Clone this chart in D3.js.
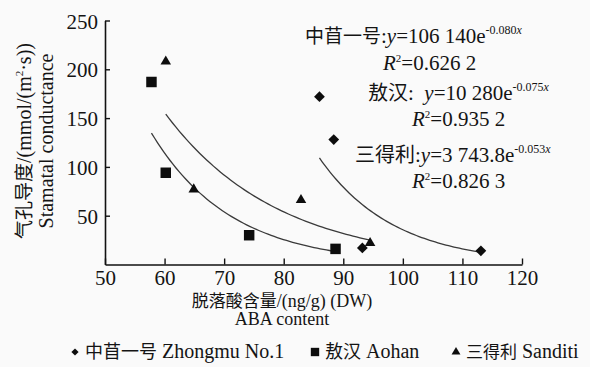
<!DOCTYPE html>
<html>
<head>
<meta charset="utf-8">
<script src="https://cdn.jsdelivr.net/npm/d3@7"></script>
<style>
  body { margin: 0; background: #fafafa; }
  svg { display: block; }
  text, tspan { fill: #141414; font-family: "Liberation Serif", "Times New Roman", serif; }
  .cn { font-family: "Noto Sans CJK SC", sans-serif; }
</style>
</head>
<body>
<svg></svg>
<script>
// cultivar names
const cultivarsCn = ['中苜一号', '敖汉', '三得利'];
const cultivarsEn = ['Zhongmu No.1', 'Aohan', 'Sanditi'];
// ABA content (ng/g DW) and stomatal conductance
const abaZhongmu = [86.0, 88.4, 93.2, 113.1];
const gsZhongmu = [172, 128, 17, 14];
const abaAohan = [57.8, 60.2, 74.2, 88.7];
const gsAohan = [187, 94, 30, 16];
const abaSanditi = [60.2, 64.9, 82.9, 94.5];
const gsSanditi = [208, 77, 66, 22];
// exponential fits y = a*e^(b*x)
const fitA = [106140, 10280, 3743.8];
const fitB = [-0.080, -0.075, -0.053];
const fitAText = ['106 140', '10 280', '3 743.8'];
const fitBText = ['-0.080', '-0.075', '-0.053'];
const fitR2Text = ['0.626 2', '0.935 2', '0.826 3'];
// ticks
const xTicks = [50, 60, 70, 80, 90, 100, 110, 120];
const yTicks = [50, 100, 150, 200, 250];

const size = {w: 590, h: 367};
const svg = d3.select('svg').attr('width', size.w).attr('height', size.h);

const x = d3.scaleLinear().domain([50, 120]).range([105, 522]);
const y = d3.scaleLinear().domain([0, 250]).range([264.5, 20.5]);

//Axes
const xAxis = svg.append('g')
    .attr('transform', `translate(0,${y(0)})`)
    .call(d3.axisBottom(x).tickValues(xTicks).tickSize(-6).tickSizeOuter(0).tickPadding(6));
const yAxis = svg.append('g')
    .attr('transform', `translate(${x(50)},0)`)
    .call(d3.axisLeft(y).tickValues(yTicks).tickSize(-5).tickSizeOuter(0).tickPadding(7));

[xAxis, yAxis].forEach(g => {
    g.attr('font-family', null).attr('font-size', null);
    g.select('.domain').attr('stroke', '#111').attr('stroke-width', 1.6);
    g.selectAll('.tick line').attr('stroke', '#111').attr('stroke-width', 1.4);
    g.selectAll('.tick text')
        .style('font-size', '21px')
        .attr('fill', '#141414');
});
yAxis.selectAll('.tick text').attr('dy', '0.36em');

//Trend lines
const series = [
    {aba: abaZhongmu, gs: gsZhongmu},
    {aba: abaAohan, gs: gsAohan},
    {aba: abaSanditi, gs: gsSanditi}
];
const line = d3.line().x(d => x(d[0])).y(d => y(d[1]));
series.forEach((s, i) => {
    const ext = d3.extent(s.aba);
    const pts = d3.range(0, 61).map(k => {
        const xv = ext[0] + (ext[1] - ext[0]) * k / 60;
        return [xv, fitA[i] * Math.exp(fitB[i] * xv)];
    });
    svg.append('path')
        .attr('d', line(pts))
        .attr('fill', 'none')
        .attr('stroke', '#3a3a3a')
        .attr('stroke-width', 1.3);
});

//Markers
const symbols = [
    d3.symbol().type(d3.symbolSquare).size(58),
    d3.symbol().type(d3.symbolSquare).size(110),
    d3.symbol().type(d3.symbolTriangle).size(48)
];
const rotate = [45, 0, 0];
series.forEach((s, i) => {
    svg.append('g').selectAll('path')
        .data(s.aba.map((v, j) => [v, s.gs[j]]))
        .enter()
        .append('path')
        .attr('d', symbols[i])
        .attr('transform', d => `translate(${x(d[0])},${y(d[1])}) rotate(${rotate[i]})`)
        .attr('fill', '#0d0d0d');
});

//Fit annotations
const annoPos = [
    {x: 305, y: 43, cn: 19, rx: 383, ry: 70},
    {x: 368, y: 100, cn: 20, rx: 412, ry: 126},
    {x: 355, y: 162, cn: 20, rx: 412, ry: 188}
];
annoPos.forEach((p, i) => {
    const t = svg.append('text').attr('x', p.x).attr('y', p.y).style('font-size', '21px');
    t.append('tspan').attr('class', 'cn').style('font-size', p.cn + 'px').text(cultivarsCn[i]);
    t.append('tspan').text(i === 1 ? ':\u00a0\u00a0' : ':');
    t.append('tspan').style('font-style', 'italic').text('y');
    t.append('tspan').text('=' + fitAText[i] + 'e');
    t.append('tspan').attr('dy', -9).style('font-size', '12px').text(fitBText[i]);
    t.append('tspan').style('font-size', '12px').style('font-style', 'italic').text('x');

    const r = svg.append('text').attr('x', p.rx).attr('y', p.ry).style('font-size', '21px');
    r.append('tspan').style('font-style', 'italic').text('R');
    r.append('tspan').attr('dy', -8).style('font-size', '11px').text('2');
    r.append('tspan').attr('dy', 8).text('=' + fitR2Text[i]);
});

//Axis titles
const xt = svg.append('text').attr('x', 282).attr('y', 307).attr('text-anchor', 'middle').style('font-size', '18px');
xt.append('tspan').attr('class', 'cn').style('font-size', '17px').text('脱落酸含量');
xt.append('tspan').text('/(ng/g) (DW)');
svg.append('text').attr('x', 282).attr('y', 325).attr('text-anchor', 'middle')
    .style('font-size', '18px').text('ABA content');

const yt = svg.append('text').attr('transform', 'translate(31,141) rotate(-90)')
    .attr('text-anchor', 'middle').style('font-size', '20px');
yt.append('tspan').attr('class', 'cn').style('font-size', '19px').text('气孔导度');
yt.append('tspan').text('/(mmol/(m');
yt.append('tspan').attr('dy', -8).style('font-size', '11px').text('2');
yt.append('tspan').attr('dy', 8).text('·s))');
svg.append('text').attr('transform', 'translate(53,141) rotate(-90)')
    .attr('text-anchor', 'middle').style('font-size', '20px').text('Stamatal conductance');

//Legend
const legendX = [75, 315, 456];
const legendSize = [26, 70, 34];
const legendCn = [18, 18, 17];
legendX.forEach((lx, i) => {
    svg.append('path')
        .attr('d', d3.symbol().type(i === 2 ? d3.symbolTriangle : d3.symbolSquare).size(legendSize[i]))
        .attr('transform', `translate(${lx},352) rotate(${rotate[i]})`)
        .attr('fill', '#0d0d0d');
    const t = svg.append('text').attr('x', lx + 10).attr('y', 358).style('font-size', '20px');
    t.append('tspan').attr('class', 'cn').style('font-size', legendCn[i] + 'px').text(cultivarsCn[i]);
    t.append('tspan').text(' ' + cultivarsEn[i]);
});
</script>
</body>
</html>
